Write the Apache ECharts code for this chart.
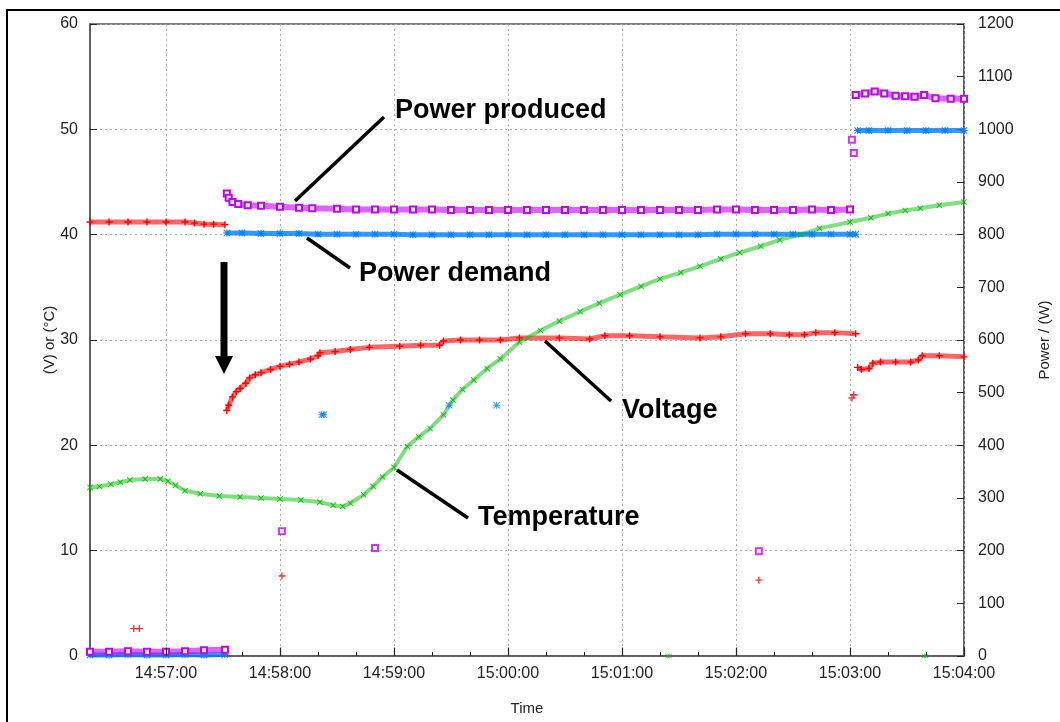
<!DOCTYPE html>
<html>
<head>
<meta charset="utf-8">
<script src="https://cdn.jsdelivr.net/npm/echarts@6/dist/echarts.min.js"></script>
<style>
html,body{margin:0;padding:0;background:#fff;}
#chart{width:1060px;height:722px;}
</style>
</head>
<body>
<div id="chart"></div>
<script>
// ---------------- DATA ----------------
const xTickLabels = ['14:57:00','14:58:00','14:59:00','15:00:00','15:01:00','15:02:00','15:03:00','15:04:00'];
const xStart = '14:56:20';
const xEnd = '15:04:00';

// Voltage (V), left axis; null = gap between recordings
const voltTimes = ['14:56:20','14:56:30','14:56:40','14:56:50','14:57:00','14:57:10','14:57:15','14:57:20','14:57:25','14:57:31','14:57:31',
  '14:57:32','14:57:33','14:57:35','14:57:37','14:57:39','14:57:42','14:57:44','14:57:47','14:57:50','14:57:55',
  '14:58:00','14:58:05','14:58:10','14:58:16','14:58:20','14:58:21','14:58:29','14:58:37','14:58:47',
  '14:59:03','14:59:14','14:59:24','14:59:26','14:59:35','14:59:45','14:59:56',
  '15:00:06','15:00:27','15:00:43','15:00:51',
  '15:01:04','15:01:20','15:01:41','15:01:52',
  '15:02:05','15:02:18','15:02:28','15:02:36','15:02:42','15:02:52',
  '15:03:03','15:03:03',
  '15:03:04','15:03:06','15:03:10','15:03:12','15:03:16','15:03:24','15:03:32','15:03:36','15:03:38','15:03:47','15:04:00'];
const voltValues = [41.2,41.2,41.2,41.2,41.2,41.2,41.1,41.0,41.0,40.95,null,
  23.3,23.8,24.6,25.1,25.4,25.9,26.4,26.7,26.9,27.2,
  27.5,27.7,27.9,28.2,28.5,28.8,28.9,29.1,29.3,
  29.4,29.5,29.5,29.9,30.0,30.0,30.0,
  30.2,30.2,30.1,30.4,
  30.4,30.3,30.2,30.3,
  30.6,30.6,30.5,30.5,30.7,30.7,
  30.6,null,
  27.4,27.2,27.3,27.8,27.9,27.9,27.9,28.1,28.5,28.5,28.4];
const voltOutTimes = ['14:56:43','14:56:46','14:58:01','15:02:12','15:03:01','15:03:02'];
const voltOutValues = [2.6,2.6,7.6,7.2,24.5,24.8];

// Temperature (°C), left axis
const tempTimes = ['14:56:20','14:56:25','14:56:31','14:56:36','14:56:41','14:56:49','14:56:57',
  '14:57:01','14:57:05','14:57:10','14:57:18','14:57:28','14:57:39','14:57:50',
  '14:58:00','14:58:11','14:58:21','14:58:28','14:58:33','14:58:37','14:58:44','14:58:49','14:58:54',
  '14:59:00','14:59:07','14:59:13','14:59:19','14:59:26','14:59:31','14:59:36','14:59:42','14:59:49','14:59:56',
  '15:00:06','15:00:17','15:00:27','15:00:38','15:00:48','15:00:59',
  '15:01:10','15:01:20','15:01:31','15:01:41','15:01:52',
  '15:02:02','15:02:13','15:02:23','15:02:34','15:02:44',
  '15:03:00','15:03:11','15:03:20','15:03:29','15:03:37','15:03:47','15:04:00'];
const tempValues = [16.0,16.1,16.3,16.5,16.7,16.8,16.8,
  16.6,16.2,15.7,15.4,15.2,15.1,15.0,
  14.9,14.8,14.6,14.3,14.2,14.5,15.3,16.1,17.0,
  17.9,19.9,20.8,21.6,22.9,24.3,25.3,26.2,27.3,28.2,
  29.8,30.9,31.8,32.7,33.5,34.3,
  35.1,35.8,36.4,37.0,37.7,
  38.3,38.9,39.5,40.0,40.6,
  41.2,41.6,42.0,42.3,42.5,42.8,43.1];
const tempOutTimes = ['15:01:24','15:01:25','15:03:39','15:03:40'];
const tempOutValues = [0,0,0,0];

// Power demand (W), right axis
const demandTimes = ['14:56:20','14:56:30','14:56:40','14:56:50','14:57:00','14:57:10','14:57:20','14:57:31','14:57:31',
  '14:57:32','14:57:40','14:57:50','14:58:00','14:58:10','14:58:20','14:58:30','14:58:40','14:58:50',
  '14:59:00','14:59:10','14:59:20','14:59:30','14:59:40','14:59:50',
  '15:00:00','15:00:10','15:00:20','15:00:30','15:00:40','15:00:50',
  '15:01:00','15:01:10','15:01:20','15:01:30','15:01:40','15:01:50',
  '15:02:00','15:02:10','15:02:20','15:02:30','15:02:40','15:02:50',
  '15:03:00','15:03:03','15:03:03',
  '15:03:04','15:03:10','15:03:20','15:03:30','15:03:40','15:03:50','15:04:00'];
const demandValues = [2,2,3,2,2,3,2,3,null,
  803,803,802,802,802,801,801,801,801,
  801,800,800,800,800,800,
  800,800,800,800,800,800,
  800,800,800,800,800,801,
  801,801,801,801,801,801,
  801,801,null,
  998,998,998,998,998,998,998];
const demandOutTimes = ['14:58:22','14:58:23','14:59:29','14:59:54'];
const demandOutValues = [458,458,476,476];

// Power produced (W), right axis
const producedTimes = ['14:56:20','14:56:30','14:56:40','14:56:50','14:57:00','14:57:10','14:57:20','14:57:31','14:57:31',
  '14:57:32','14:57:33','14:57:35','14:57:38','14:57:43','14:57:50','14:58:00','14:58:10','14:58:17','14:58:30','14:58:40','14:58:50',
  '14:59:00','14:59:10','14:59:20','14:59:30','14:59:40','14:59:50',
  '15:00:00','15:00:10','15:00:20','15:00:30','15:00:40','15:00:50',
  '15:01:00','15:01:10','15:01:20','15:01:30','15:01:40','15:01:50',
  '15:02:00','15:02:10','15:02:20','15:02:30','15:02:40','15:02:50',
  '15:03:00','15:03:00',
  '15:03:03','15:03:08','15:03:13','15:03:18','15:03:24','15:03:29','15:03:34','15:03:39','15:03:45','15:03:53','15:04:00'];
const producedValues = [8,8,9,8,8,9,11,12,null,
  878,870,862,858,856,855,853,851,850,849,848,848,
  848,848,848,847,847,847,
  847,847,847,847,847,847,
  847,847,847,847,847,848,
  848,847,847,847,848,847,
  848,null,
  1065,1068,1072,1068,1064,1063,1062,1065,1059,1058,1058];
const producedOutTimes = ['14:58:01','14:58:50','15:02:12','15:03:01','15:03:02'];
const producedOutValues = [237,205,199,980,955];

// ---------------- HELPERS ----------------
function toSec(s){ const p = s.split(':').map(Number); return p[0]*3600 + p[1]*60 + p[2]; }
function fmt(v){ const h=Math.floor(v/3600), m=Math.floor((v%3600)/60), s=v%60;
  const pad = n => String(n).padStart(2,'0'); return pad(h)+':'+pad(m)+':'+pad(s); }
function pairs(times, values){ return times.map((t,i)=>[toSec(t), values[i]===null ? '-' : values[i]]); }

const PLUS = 'path://M4,0H6V4H10V6H6V10H4V6H0V4H4Z';
const CROSS = 'path://M1,0L5,4L9,0L10,1L6,5L10,9L9,10L5,6L1,10L0,9L4,5L0,1Z';
const STAR = 'path://M4.3,0H5.7V4.3H10V5.7H5.7V10H4.3V5.7H0V4.3H4.3Z M1,0L5,4L9,0L10,1L6,5L10,9L9,10L5,6L1,10L0,9L4,5L0,1Z';

const RED='#ff0000', GREEN='#00c000', BLUE='#0080ff', PURPLE='#c000ff';
const majorSecs = xTickLabels.map(toSec);

function lineSeries(name, data, yIdx, color, band, width, symbol, size, extra){
  return Object.assign({
    name, type:'line', data, yAxisIndex:yIdx, connectNulls:false,
    symbol, symbolSize:size, showSymbol:true, showAllSymbol:true,
    lineStyle:{color:band, width:width}, itemStyle:{color:color, borderWidth:1.5},
    animation:false, z:3
  }, extra||{});
}
function scatterSeries(name, data, yIdx, color, symbol, size){
  return { name, type:'scatter', data, yAxisIndex:yIdx, symbol, symbolSize:size,
    itemStyle:{color:color, borderWidth:1.5}, animation:false, z:4 };
}

const chart = echarts.init(document.getElementById('chart'), null, {renderer:'canvas'});
const axisColor = '#555';
const labelColor = '#222';
const FONT = '"Liberation Sans", Arial, Helvetica, sans-serif';

const option = {
  backgroundColor:'#fff',
  animation:false,
  textStyle:{fontFamily:FONT},
  grid:{left:90, right:96, top:24, bottom:66, show:true, borderColor:axisColor, borderWidth:1.5},
  xAxis:{
    type:'value', min:toSec(xStart), max:toSec(xEnd), interval:20,
    name:'Time', nameLocation:'middle', nameGap:45,
    nameTextStyle:{fontSize:15, color:labelColor, fontFamily:FONT},
    axisLine:{show:true, lineStyle:{color:axisColor, width:1.5}},
    axisTick:{show:true, inside:true, length:4, lineStyle:{color:'#222', width:1}},
    axisLabel:{color:labelColor, fontSize:16, margin:10, fontFamily:FONT,
      formatter: v => (xTickLabels.indexOf(fmt(v))>=0 ? fmt(v) : '')},
    splitLine:{show:false}
  },
  yAxis:[
    { type:'value', min:0, max:60, interval:10, position:'left',
      name:'(V) or (°C)', nameLocation:'middle', nameGap:33, nameRotate:90, nameMoveOverlap:false,
      nameTextStyle:{fontSize:15, color:labelColor, fontFamily:FONT},
      axisLine:{show:true, lineStyle:{color:axisColor, width:1.5}},
      axisTick:{show:true, inside:true, length:7, lineStyle:{color:'#222'}},
      axisLabel:{color:labelColor, fontSize:16, margin:12, fontFamily:FONT, formatter: v => String(v)},
      splitLine:{show:true, lineStyle:{color:'#aaa', type:[2,3], width:1}}
    },
    { type:'value', min:0, max:1200, interval:100, position:'right',
      name:'Power / (W)', nameLocation:'middle', nameGap:73, nameRotate:90, nameMoveOverlap:false,
      nameTextStyle:{fontSize:15, color:labelColor, fontFamily:FONT},
      axisLine:{show:true, lineStyle:{color:axisColor, width:1.5}},
      axisTick:{show:true, inside:true, length:7, lineStyle:{color:'#222'}},
      axisLabel:{color:labelColor, fontSize:16, margin:14, fontFamily:FONT, formatter: v => String(v)},
      splitLine:{show:false}
    }
  ],
  series:[
    lineSeries('Voltage', pairs(voltTimes, voltValues), 0, RED, 'rgba(255,0,0,0.6)', 5, PLUS, 7, {
      markLine:{ silent:true, z:1, symbol:['none','none'], label:{show:false}, animation:false,
        lineStyle:{color:'#aaa', type:[2,3], width:1},
        emphasis:{disabled:true},
        data: majorSecs.map(s => ({xAxis:s})) }
    }),
    scatterSeries('Voltage out', pairs(voltOutTimes, voltOutValues), 0, RED, PLUS, 7),
    lineSeries('Temperature', pairs(tempTimes, tempValues), 0, GREEN, 'rgba(0,192,0,0.5)', 4, CROSS, 6, {
      markLine:{ silent:true, z:6, symbol:['none','none'], label:{show:false}, animation:false,
        lineStyle:{color:'#222', type:'solid', width:1.2},
        emphasis:{disabled:true},
        data: majorSecs.map(s => [{coord:[s,0]},{coord:[s,0.8]}]) }
    }),
    scatterSeries('Temperature out', pairs(tempOutTimes, tempOutValues), 0, GREEN, CROSS, 5),
    lineSeries('Power demand', pairs(demandTimes, demandValues), 1, BLUE, 'rgba(0,128,255,0.8)', 5, STAR, 7),
    scatterSeries('Power demand out', pairs(demandOutTimes, demandOutValues), 1, BLUE, STAR, 7),
    lineSeries('Power produced', pairs(producedTimes, producedValues), 1, PURPLE, 'rgba(192,0,255,0.6)', 6, 'emptyRect', 6),
    scatterSeries('Power produced out', pairs(producedOutTimes, producedOutValues), 1, PURPLE, 'emptyRect', 6)
  ],
  graphic:[
    {type:'rect', silent:true, shape:{x:7, y:10, width:1100, height:800}, style:{fill:'none', stroke:'#000', lineWidth:2}, z:100},
    {type:'line', silent:true, shape:{x1:295, y1:201, x2:384, y2:117}, style:{stroke:'#000', lineWidth:3.5}, z:100},
    {type:'line', silent:true, shape:{x1:307, y1:238, x2:350, y2:268}, style:{stroke:'#000', lineWidth:3.5}, z:100},
    {type:'line', silent:true, shape:{x1:545, y1:341, x2:611, y2:401}, style:{stroke:'#000', lineWidth:3.5}, z:100},
    {type:'line', silent:true, shape:{x1:397, y1:470, x2:468, y2:518}, style:{stroke:'#000', lineWidth:3.5}, z:100},
    {type:'rect', silent:true, shape:{x:220.5, y:262, width:7, height:96}, style:{fill:'#000'}, z:100},
    {type:'polygon', silent:true, shape:{points:[[215,356],[233,356],[224,374]]}, style:{fill:'#000'}, z:100},
    {type:'text', silent:true, x:395, y:111, style:{text:'Power produced', font:'bold 27px '+FONT, fill:'#000', verticalAlign:'middle'}, z:100},
    {type:'text', silent:true, x:359, y:274, style:{text:'Power demand', font:'bold 27px '+FONT, fill:'#000', verticalAlign:'middle'}, z:100},
    {type:'text', silent:true, x:622, y:411, style:{text:'Voltage', font:'bold 27px '+FONT, fill:'#000', verticalAlign:'middle'}, z:100},
    {type:'text', silent:true, x:478, y:518, style:{text:'Temperature', font:'bold 27px '+FONT, fill:'#000', verticalAlign:'middle'}, z:100}
  ]
};
chart.setOption(option);
</script>
</body>
</html>
